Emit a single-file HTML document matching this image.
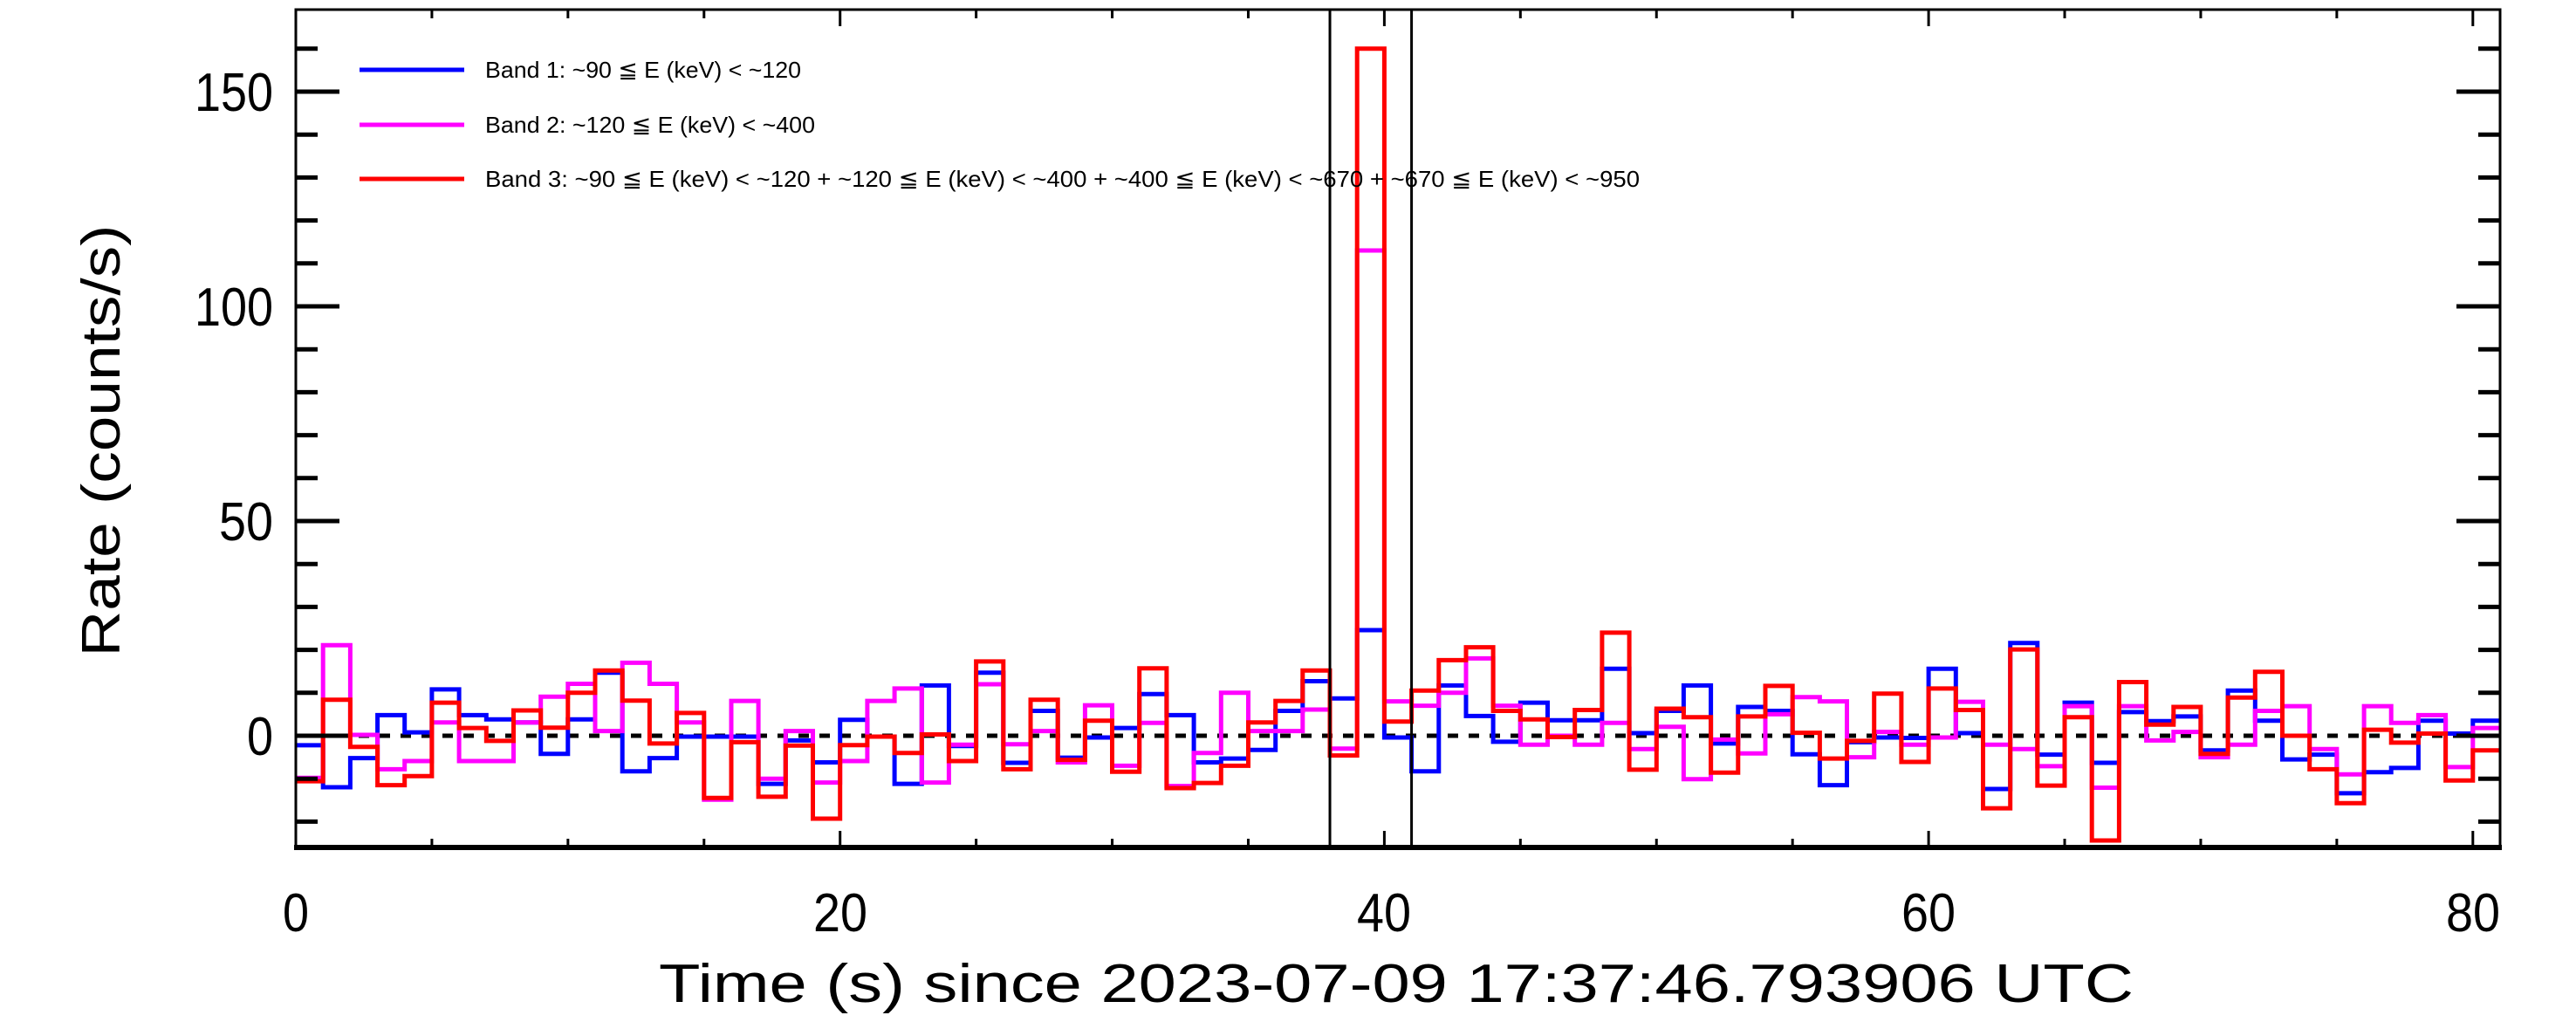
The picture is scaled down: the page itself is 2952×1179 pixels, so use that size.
<!DOCTYPE html>
<html><head><meta charset="utf-8"><style>
html,body{margin:0;padding:0;background:#fff;}
svg{display:block;}
text{font-family:"Liberation Sans",sans-serif;fill:#000;}
</style></head><body>
<svg id="s" width="2952" height="1179" viewBox="0 0 2952 1179" xmlns="http://www.w3.org/2000/svg">
<rect width="2952" height="1179" fill="#fff"/>
<g id="plot"></g>
<g font-size="62">
<text x="339" y="1067" text-anchor="middle" textLength="30" lengthAdjust="spacingAndGlyphs">0</text>
<text x="963" y="1067" text-anchor="middle" textLength="62" lengthAdjust="spacingAndGlyphs">20</text>
<text x="1586" y="1067" text-anchor="middle" textLength="62" lengthAdjust="spacingAndGlyphs">40</text>
<text x="2210" y="1067" text-anchor="middle" textLength="62" lengthAdjust="spacingAndGlyphs">60</text>
<text x="2834" y="1067" text-anchor="middle" textLength="62" lengthAdjust="spacingAndGlyphs">80</text>
<text x="313" y="865" text-anchor="end" textLength="30" lengthAdjust="spacingAndGlyphs">0</text>
<text x="313" y="619" text-anchor="end" textLength="62" lengthAdjust="spacingAndGlyphs">50</text>
<text x="313" y="373" text-anchor="end" textLength="90" lengthAdjust="spacingAndGlyphs">100</text>
<text x="313" y="127" text-anchor="end" textLength="90" lengthAdjust="spacingAndGlyphs">150</text>
<text x="1600" y="1148" text-anchor="middle" textLength="1690" lengthAdjust="spacingAndGlyphs">Time (s) since 2023-07-09 17:37:46.793906 UTC</text>
<text transform="translate(137,505) rotate(-90)" text-anchor="middle" textLength="495" lengthAdjust="spacingAndGlyphs">Rate (counts/s)</text>
</g>
<g font-size="26">
<line x1="412" y1="80" x2="532" y2="80" stroke="#0000ff" stroke-width="5"/>
<text x="556" y="89" textLength="362" lengthAdjust="spacingAndGlyphs">Band 1: ~90 ≦ E (keV) &lt; ~120</text>
<line x1="412" y1="143" x2="532" y2="143" stroke="#ff00ff" stroke-width="5"/>
<text x="556" y="152" textLength="378" lengthAdjust="spacingAndGlyphs">Band 2: ~120 ≦ E (keV) &lt; ~400</text>
<line x1="412" y1="205" x2="532" y2="205" stroke="#ff0000" stroke-width="5"/>
<text x="556" y="214" textLength="1323" lengthAdjust="spacingAndGlyphs">Band 3: ~90 ≦ E (keV) &lt; ~120 + ~120 ≦ E (keV) &lt; ~400 + ~400 ≦ E (keV) &lt; ~670 + ~670 ≦ E (keV) &lt; ~950</text>
</g>
</svg>
<script>
var B=[-2.2,-12,-5.2,4.8,0.8,10.8,4.8,3.8,3.1,-4.2,3.8,14.7,-8.3,-5.2,-0.2,-0.2,-0.2,-11.2,-1.1,-6.2,3.7,-0.2,-11.2,11.7,-2.4,14.7,-6.3,5.8,-5.1,-0.4,1.8,9.7,4.8,-6.2,-5.3,-3.3,5.8,12.7,8.7,24.6,-0.4,
-8.3,11.7,4.6,-1.4,7.7,3.6,3.6,15.6,0.6,5.8,11.7,-1.8,6.7,5.8,-4.3,-11.5,-1.5,-0.4,-0.5,15.6,0.6,-12.4,21.6,-4.4,7.7,-6.3,5.5,3.4,4.5,-3.4,10.5,3.5,-5.5,-4.4,-13.4,-8.5,-7.5,3.5,0.5,3.5];
var M=[-9.8,21.1,0.2,-7.8,-5.9,3.1,-5.9,-5.9,3.1,9.1,12.1,1.1,17,12.1,3.1,-14.9,8.1,-10,1.1,-10.9,-5.9,8.1,11,-10.9,-2.1,12,-2,1.1,-6.2,7.1,-7,3,-11.7,-4,10,1.1,1.1,6.1,-3,113,8,
7,10,18,7,-2.1,0,-2.1,3,-3.1,2.1,-10.1,-0.9,-4.1,5,9,8,-5,0.9,-2.1,-0.4,7.9,-2.1,-3.1,-7.1,6.9,-12.1,6.9,-1.1,0.9,-5,-2.1,5.8,6.9,-3.1,-9,6.9,3,4.8,-7.3,1.8];
var R=[-10.6,8.4,-2.6,-11.5,-9.4,7.7,1.8,-1.2,5.9,1.9,10,15.2,8.2,-1.8,5.3,-14.5,-1.5,-14.2,-2.3,-19.3,-2.2,-0.2,-4,0.3,-5.9,17.3,-7.8,8.4,-5.6,3.5,-8.4,15.7,-12.2,-11,-7,3.1,8.1,15.2,-4.6,160,3.3,
10.5,17.6,20.6,5.8,3.8,-0.3,6,24,-7.9,6.3,4.3,-8.6,4.5,11.6,0.7,-5.3,-1.2,9.8,-6.1,11,6,-16.9,20.1,-11.6,4.3,-24.4,12.5,2.6,6.7,-4.2,8.9,14.9,0,-7.8,-15.7,1.4,-1.6,0.5,-10.4,-3.4];
function X(t){return 339+t*31.185;}function Y(v){return 843-v*4.92;}
function path(a){var d="M"+X(0)+","+Y(a[0]);for(var i=0;i<a.length;i++){d+=" H"+X(i+1).toFixed(1);if(i+1<a.length)d+=" V"+Y(a[i+1]).toFixed(1);}return d;}
var g='';
g+='<line x1="339" y1="843" x2="2865" y2="843" stroke="#000" stroke-width="5" stroke-dasharray="12,12"/>';
g+='<path d="'+path(B)+'" fill="none" stroke="#0000ff" stroke-width="5"/>';
g+='<path d="'+path(M)+'" fill="none" stroke="#ff00ff" stroke-width="5"/>';
g+='<path d="'+path(R)+'" fill="none" stroke="#ff0000" stroke-width="5"/>';
g+='<line x1="'+X(38)+'" y1="11" x2="'+X(38)+'" y2="971" stroke="#000" stroke-width="3"/>';
g+='<line x1="'+X(41)+'" y1="11" x2="'+X(41)+'" y2="971" stroke="#000" stroke-width="3"/>';
for(var t=0;t<=81;t+=5){var x=X(t),L=(t%20==0)?19:10;g+='<line x1="'+x+'" y1="971" x2="'+x+'" y2="'+(971-L)+'" stroke="#000" stroke-width="3"/><line x1="'+x+'" y1="11" x2="'+x+'" y2="'+(11+L)+'" stroke="#000" stroke-width="3"/>';}
for(var v=-20;v<=160;v+=10){var y=Y(v),L=(v%50==0)?50:25;g+='<line x1="339" y1="'+y+'" x2="'+(339+L)+'" y2="'+y+'" stroke="#000" stroke-width="5"/><line x1="2865" y1="'+y+'" x2="'+(2865-L)+'" y2="'+y+'" stroke="#000" stroke-width="5"/>';}
g+='<rect x="339" y="11" width="2526" height="960" fill="none" stroke="#000" stroke-width="3"/>';
g+='<line x1="337" y1="971" x2="2867" y2="971" stroke="#000" stroke-width="6"/>';
document.getElementById('plot').innerHTML=g;
</script>
</body></html>
